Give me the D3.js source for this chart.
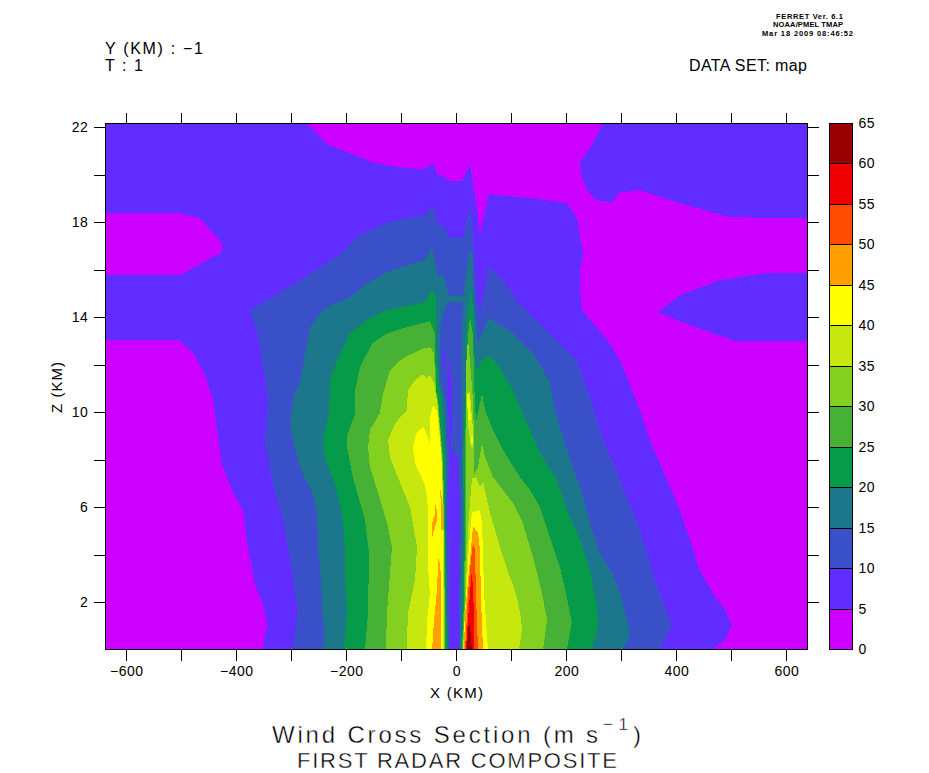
<!DOCTYPE html>
<html><head><meta charset="utf-8">
<script src="https://cdn.jsdelivr.net/npm/d3@7"></script>
<style>
html,body{margin:0;padding:0;background:#fff}
svg{display:block}
text{font-family:"Liberation Sans",Arial,sans-serif;fill:#000}
.thin{stroke:#fff;stroke-width:.4px;paint-order:fill stroke}
.tiny{font-weight:bold}
</style></head><body>
<svg id="c" width="929" height="773"></svg>
<script>
// ---- levels and colours
const levelEdges=[0,5,10,15,20,25,30,35,40,45,50,55,60,65];
const bandColors=["#cc00ff","#602cff","#3a50c8","#1c768c","#059b48","#47b135","#84d020","#c6e80f","#ffff00","#ff9f00","#ff4c00","#f00000","#990000"];
// ---- ticks
const xTicks=[-600,-500,-400,-300,-200,-100,0,100,200,300,400,500,600];
const xLabelled=[-600,-400,-200,0,200,400,600];
const zTicks=[2,4,6,8,10,12,14,16,18,20,22];
const zLabelled=[2,6,10,14,18,22];
// ---- contours as [x km, z km]
const below5Left=[[-640,13.03],[-502,13.03],[-475,12.4],[-457,11.56],[-442,10.5],[-435,9.24],[-426,7.77],[-408,6.72],[-388,5.87],[-381,4.61],[-366,2.72],[-351,1.87],[-344,1.03],[-353,0],[-640,0]];
const below5Mid=[[-640,18.38],[-502,18.38],[-466,18.17],[-426,17.12],[-426,16.74],[-502,15.77],[-640,15.77]];
const below5Right=[[-275,22.2],[-253,21.75],[-233,21.28],[-193,20.9],[-151,20.52],[-102,20.31],[-61,20.23],[-42,20.48],[-35,20.06],[-15,19.81],[-11.5,19.73],[10.4,19.73],[24.9,20.44],[30.4,19.64],[32.2,19.34],[37.6,18.63],[43,17.41],[52.2,18.5],[59.5,19.18],[139.5,19.01],[201,18.8],[219.5,18.21],[225,17.37],[230.4,16.69],[225,15.98],[225,15.26],[228.5,14.29],[248.5,13.75],[279.5,12.9],[297.6,12.19],[334,10.08],[352,8.82],[379.5,7.35],[406.7,5.87],[425,4.61],[443,3.35],[465,2.42],[488.5,1.66],[501,1.03],[488.5,.4],[465,0],[640,0],[640,18.17],[497.6,18.21],[406.7,18.8],[334,19.35],[297.6,19.26],[283,18.84],[255.8,18.92],[237.6,19.35],[228.5,19.89],[225,20.52],[248.5,21.32],[266.7,22.2]];
const above5Lens=[[640,15.85],[561,15.85],[479,15.56],[406.7,14.92],[366.7,14.21],[425,13.66],[507,12.99],[640,12.99]];
const contour10=[[-297,0],[-288,1.66],[-299,3.35],[-311,5.03],[-335,7.14],[-348,8.82],[-342,10.5],[-351.5,11.98],[-360.5,13.24],[-375,14.29],[-284,15.56],[-248,16.1],[-206,16.73],[-180.6,17.37],[-139,17.87],[-102,18.12],[-57,18.29],[-44,18.67],[-35,18.2],[-33,17.83],[-24,17.91],[-15,17.45],[-11.5,17.32],[12.2,17.32],[24.9,18.67],[30.4,17.53],[32.2,15.97],[35.8,15],[43,14.25],[52.2,15.26],[59.5,16.14],[79.5,15.68],[103,15],[110.4,14.63],[139.5,14],[183,13.03],[219.5,12.19],[237.6,10.92],[243,10.63],[265,8.95],[297.6,7.14],[334,5.03],[361,2.93],[392,1.03],[370,0]];
const below10Channel=[[-11.5,0],[-13.3,2.93],[-15,6.29],[-13.3,8.1],[-13.3,9.66],[-17,10.92],[-17,11.98],[-13.3,12.19],[-7.8,11.13],[-7.8,9.66],[-9.6,8.4],[3.1,8.1],[4.9,5.45],[4.9,2.08],[4.9,0]];
const below10Sliver=[[-26,12.73],[-20.5,12.52],[-20.5,11.9],[-24,11.9]];
const contour15=[[-244,0],[-239,.53],[-244,1.54],[-246,2.93],[-251.5,4.32],[-253,5.75],[-262,6.59],[-284,7.68],[-297,8.82],[-302,9.66],[-295,10.71],[-284,11.22],[-275,12.48],[-266,13.58],[-253,14],[-239,14.38],[-193,14.84],[-162,15.43],[-126,15.89],[-79,16.27],[-57,16.4],[-44,16.94],[-35,15.85],[-31.5,15.68],[-24,15.81],[-15,15.01],[-11.5,14.88],[12.2,14.88],[24.9,16.94],[30.4,16.4],[32.2,14.71],[35.8,13.66],[39.5,12.94],[59.5,13.96],[79.5,13.66],[103,13.32],[139.5,12.48],[165,11.47],[170,11.35],[176,10.38],[201,8.4],[225,6.84],[243,5.33],[261,4.06],[283,3.22],[297.6,2.38],[310,1.24],[316,.61],[303,0]];
const below15Channel=[[-15,0],[-17,2.08],[-18.7,5.03],[-17,7.98],[-20.5,10.5],[-29.6,11.35],[-29.6,13.03],[-27.8,13.79],[-22.4,14.29],[-15,14.63],[12.2,14.63],[10.4,13.45],[10.4,10.5],[10.4,7.98],[10.4,5.24],[6.7,2.08],[6.7,0]];
const contour20West=[[-204,0],[-199,1.54],[-202,2.93],[-202,4.32],[-208,5.75],[-220.5,6.93],[-239,8.1],[-242,8.95],[-233,9.75],[-230,10.63],[-230,11.35],[-217,12.19],[-193,13.33],[-157,13.96],[-126,14.29],[-57,14.63],[-44,15.18],[-37,14.84],[-37,13.03],[-33,11.35],[-26,10.5],[-20.5,7.98],[-20,5.24],[-17,0]];
const contour20East=[[8.5,0],[12.2,2.08],[14,5.24],[12.2,8.1],[15.8,10.5],[17.6,11.35],[17.6,13.03],[21.3,14.29],[26.7,15.22],[32.2,13.87],[32.2,12.61],[37.6,11.77],[46.7,12.19],[59.5,12.36],[74,12.06],[103,10.92],[110.4,10.5],[128.6,9.54],[152,8.27],[183,7.14],[201,5.87],[225,4.61],[243,3.35],[255.8,1.79],[257.6,.95],[246.7,0]];
const contour25West=[[-166,0],[-160.5,1.54],[-158.7,4.06],[-166,5.45],[-188,7.26],[-199,8.53],[-199,8.95],[-184,9.96],[-184,10.92],[-175,11.89],[-153,12.9],[-126,13.32],[-90,13.58],[-48,13.83],[-39,13.33],[-37,10.92],[-33,10.5],[-24,7.98],[-21.5,5.24],[-20,0]];
const contour25East=[[10.4,0],[14,2.08],[15.8,5.24],[15.8,7.98],[17.6,10.5],[19.5,12.19],[21.3,13.24],[24.9,14],[30.4,13.24],[32.2,11.35],[35.8,9.54],[46.7,10.8],[52.2,10.08],[66.7,9.24],[85,8.4],[115.8,7.26],[134,6.72],[152,6],[170,4.74],[188.5,3.47],[201,2.21],[210,1.12],[201,0]];
const contour30West=[[-128,0],[-126,1.54],[-117,4.32],[-126,5.33],[-142,6.59],[-157,7.68],[-160.5,8.53],[-157,9.24],[-139,9.96],[-133,10.8],[-120.5,11.77],[-97,12.27],[-60.5,12.69],[-48,12.74],[-40.5,12.48],[-37,10.92],[-34,10.5],[-25,7.98],[-22.4,5.24],[-20.5,0]];
const contour30East=[[11.3,0],[15.8,2.08],[17.6,5.24],[17.6,7.98],[18.5,10.5],[18.5,12.19],[21.3,13.15],[30.4,10.5],[32.2,8.82],[32.2,7.35],[39.5,7.68],[46.7,8.69],[52.2,8.1],[66.7,7.26],[103,6.17],[121,5.33],[139.5,3.89],[155.8,2.38],[165,1.24],[157.6,0]];
const contour35West=[[-90,0],[-88,1.54],[-75,2.93],[-71.5,4.32],[-84,6],[-102,7.01],[-120.5,8.1],[-124,8.82],[-111,9.54],[-90,10.08],[-88,10.92],[-75,11.35],[-60.5,11.6],[-55,11.43],[-48,11.56],[-40.5,11.22],[-37,10.71],[-35,10.5],[-26,7.98],[-23.3,5.24],[-22.4,0]];
const contour35East=[[12.2,0],[16.9,2.08],[21.3,5.03],[26.7,6.72],[28.5,7.22],[36,7.26],[43,6.84],[48.6,7.05],[54,6.5],[61.3,5.75],[74,4.74],[85,3.89],[97.6,3.05],[110.4,2.21],[117.6,1.37],[119.5,.82],[114,0]];
const contour35Spike=[[19.5,10.8],[24.9,10.84],[30.4,9.24],[30.4,8.53],[26.7,8.53],[21.3,9.45]];
const contour40West=[[-55,0],[-53,1.24],[-48,2.38],[-51.5,3.47],[-51.5,5.75],[-53,6.42],[-57,6.93],[-75,7.85],[-79,8.53],[-71.5,9.16],[-59,9.37],[-51.5,8.95],[-48,8.69],[-48,9.79],[-42.4,10.29],[-38.7,10.17],[-35,10.08],[-29.6,8.82],[-27,7.98],[-24.2,5.24],[-24.2,0]];
const contour40East=[[13.1,0],[14,.82],[19.5,2.93],[23.1,4.4],[28.5,5.79],[43,5.87],[46.7,5.33],[48.6,4.06],[50.4,2.38],[57.6,0]];
const contour40Spike=[[19.5,10.76],[23.1,10.76],[26.7,9.66],[21.3,9.66]];
const contour40Fleck=[[27.6,8.95],[30.4,8.95],[30.4,8.65],[27.6,8.65]];
const contour45West=[[-44,0],[-40.5,1.24],[-35,2.5],[-33,3.77],[-31.5,3.9],[-28,3.14],[-28,0]];
const contour45FleckA=[[-37,6.42],[-35,5.45],[-44,4.74],[-44,5.33],[-38.7,5.75]];
const contour45FleckB=[[-29.6,6.84],[-24.2,6],[-24.2,5.03],[-28,5.03],[-28,6]];
const contour45East=[[14,0],[15.8,1.45],[21.3,2.93],[24.9,3.77],[30.4,5.2],[39.5,4.9],[43,4.19],[45,2.08],[48.6,0]];
const contour50East=[[15.8,0],[17.6,.69],[21.3,2.38],[26.7,3.77],[30.4,4.48],[34,4.19],[35.8,2.21],[39.5,0]];
const contour55East=[[17.6,0],[19.5,.69],[24.9,2.38],[28.5,3.35],[30.4,2.38],[32.2,1.54],[32.2,0]];
const contour60East=[[19.5,0],[21.3,.82],[23.1,1.12],[26.7,.61],[28.5,0]];
const layers=[
 [0,below5Left],[0,below5Mid],[0,below5Right],[1,above5Lens],
 [2,contour10],[3,contour15],[2,below15Channel],[1,below10Channel],[1,below10Sliver],
 [4,contour20West],[4,contour20East],[5,contour25West],[5,contour25East],
 [6,contour30West],[6,contour30East],[7,contour35West],[7,contour35East],[7,contour35Spike],
 [8,contour40West],[8,contour40East],[8,contour40Spike],[8,contour40Fleck],
 [9,contour45West],[9,contour45FleckA],[9,contour45FleckB],[9,contour45East],
 [10,contour50East],[11,contour55East],[12,contour60East]
];
// ---- drawing
const L=105.3,R=807.7,T=123.5,B=649.5;
const x=d3.scaleLinear().domain([-638.2,638.9]).range([L,R]);
const z=d3.scaleLinear().domain([0,22.16]).range([B,T]);
const svg=d3.select("#c");
svg.append("defs").append("clipPath").attr("id","plot").append("rect").attr("x",L).attr("y",T).attr("width",R-L).attr("height",B-T);
const g=svg.append("g").attr("clip-path","url(#plot)").attr("shape-rendering","crispEdges");
g.append("rect").attr("x",L).attr("y",T).attr("width",R-L).attr("height",B-T).attr("fill",bandColors[1]);
const line=d3.line().x(d=>x(d[0])).y(d=>z(d[1]));
g.selectAll("path").data(layers).join("path").attr("d",d=>line(d[1])+"Z").attr("fill",d=>bandColors[d[0]]);
svg.append("rect").attr("x",L).attr("y",T).attr("width",R-L).attr("height",B-T).attr("fill","none").attr("stroke","#000").attr("shape-rendering","crispEdges");
const fmt=v=>String(v).replace("-","\u2212");
function styleAxis(a){
  a.select(".domain").remove();
  a.selectAll("line").attr("stroke","#000").attr("shape-rendering","crispEdges");
  a.selectAll("text").attr("font-size",14).attr("font-family",'"Liberation Sans"').attr("letter-spacing","0.5").attr("fill","#000");
}
svg.append("g").attr("transform",`translate(0,${B})`).call(d3.axisBottom(x).tickValues(xTicks).tickSize(11).tickPadding(6).tickFormat(d=>xLabelled.includes(d)?fmt(d):"")).call(styleAxis);
svg.append("g").attr("transform",`translate(0,${T})`).call(d3.axisTop(x).tickValues(xTicks).tickSize(11).tickFormat("")).call(styleAxis);
svg.append("g").attr("transform",`translate(${L},0)`).call(d3.axisLeft(z).tickValues(zTicks).tickSize(11).tickPadding(6).tickFormat(d=>zLabelled.includes(d)?fmt(d):"")).call(styleAxis);
svg.append("g").attr("transform",`translate(${R},0)`).call(d3.axisRight(z).tickValues(zTicks).tickSize(11).tickFormat("")).call(styleAxis);
// colour bar
const cb=d3.scaleLinear().domain([0,65]).range([B,T]);
const bands=bandColors.map((c,i)=>({c,lo:levelEdges[i],hi:levelEdges[i+1]}));
svg.append("g").attr("shape-rendering","crispEdges").selectAll("rect").data(bands).join("rect")
 .attr("x",829).attr("width",23.5).attr("y",d=>cb(d.hi)).attr("height",d=>cb(d.lo)-cb(d.hi)).attr("fill",d=>d.c).attr("stroke","#000");
svg.append("g").selectAll("text").data(levelEdges).join("text").attr("x",858.5).attr("y",d=>cb(d)+4.5).attr("font-size",14).attr("letter-spacing","0.5").text(d=>d);
// texts
function txt(s,xp,yp,size,len,cls){
  const t=svg.append("text").attr("x",xp).attr("y",yp).attr("font-size",size).text(s);
  if(cls)t.attr("class",cls);
  if(len)t.attr("textLength",len).attr("lengthAdjust","spacing");
  return t;
}
txt("Y (KM) : \u22121",105,54,16,98);
txt("T : 1",105,71,16,38);
txt("DATA SET: map",689,71,16,118);
txt("FERRET Ver. 6.1",776,19,7.5,67,"tiny");
txt("NOAA/PMEL TMAP",773,27,7.5,70,"tiny");
txt("Mar 18 2009 08:46:52",762,36,7.5,91,"tiny");
txt("X (KM)",430,698,15,53);
svg.append("text").attr("transform","translate(62,413) rotate(-90)").attr("font-size",15).attr("textLength",51).attr("lengthAdjust","spacing").text("Z (KM)");
txt("Wind Cross Section (m s",272,742.5,24,326,"thin");
txt("\u22121",603,730,17,25,"thin");
txt(")",633,742.5,24,null,"thin");
txt("FIRST RADAR COMPOSITE",297,768,22,320,"thin");
</script>
</body></html>
